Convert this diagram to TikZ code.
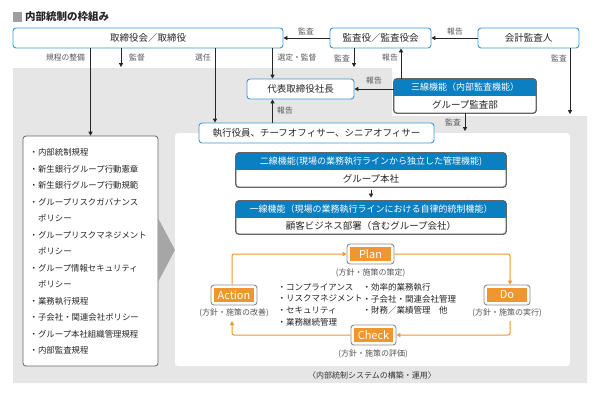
\documentclass[tikz,border=0pt]{standalone}
\usepackage{fontspec}
\setmainfont{Noto Sans CJK JP}
\usetikzlibrary{arrows.meta}
\definecolor{bborder}{HTML}{3A9AD6}
\definecolor{hblue}{HTML}{0A7FC1}
\definecolor{bggray}{HTML}{E6E6E6}
\definecolor{lblgray}{HTML}{555555}
\definecolor{orng}{HTML}{F0962E}
\definecolor{trigray}{HTML}{A6A6A6}
\definecolor{boxgray}{HTML}{666666}
\tikzset{
  bbox/.style={draw=bborder, line width=0.9pt, rounded corners=3pt, fill=white, text=black!85,
    font=\fontsize{9.5}{11}\selectfont, inner sep=0pt},
  tbox/.style={draw=boxgray, line width=0.8pt, rounded corners=3pt, fill=white, inner sep=0pt},
  htext/.style={text=white, font=\fontsize{9}{10}\selectfont, inner sep=0pt},
  ltext/.style={text=black!85, font=\fontsize{9.5}{11}\selectfont, inner sep=0pt},
  lbl/.style={text=lblgray, font=\fontsize{7.8}{9}\selectfont, inner sep=0pt},
  blk/.style={draw=black!85, line width=0.9pt, -{Triangle[length=4pt,width=4.2pt]}},
  pdca/.style={draw=gray!90, line width=0.9pt, rounded corners=3pt, fill=white, inner sep=0pt,
    minimum height=20pt},
  ptext/.style={text=white, font=\fontsize{11}{12}\selectfont, inner sep=0pt},
  plbl/.style={text=lblgray, font=\fontsize{8}{9}\selectfont, inner sep=0pt},
  oarrow/.style={draw=orng, line width=1pt, rounded corners=2pt, -{Triangle[length=4pt,width=4.2pt]}},
}
\begin{document}
\begin{tikzpicture}[x=1pt,y=-1pt]
\useasboundingbox (0,0) rectangle (608,392);
% backgrounds
\fill[bggray] (13,68) -- (392,68) -- (392,116) -- (587,116) -- (587,383) -- (13,383) -- cycle;
\fill[white, rounded corners=3pt] (175,133) rectangle (570,366);
% title
\fill[gray!75] (13,12) rectangle (22,22);
\node[anchor=west, inner sep=0pt, font=\bfseries\fontsize{10.5}{12}\selectfont, text=black!85] (title) at (25,17) {内部統制の枠組み};
% top boxes
\node[bbox, minimum width=270pt, minimum height=20pt] (board) at (148,38) {取締役会／取締役};
\node[bbox, minimum width=101pt, minimum height=20pt] (kansa) at (380.5,38) {監査役／監査役会};
\node[bbox, minimum width=101pt, minimum height=20pt] (kaikei) at (528.5,38) {会計監査人};
\node[bbox, minimum width=107pt, minimum height=20pt] (daihyo) at (300.5,89) {代表取締役社長};
\node[bbox, minimum width=235pt, minimum height=20pt] (shikko) at (316.5,133) {執行役員、チーフオフィサー、シニアオフィサー};
% three-line box
\node[tbox, minimum width=142pt, minimum height=34pt] (sansen) at (465,96) {};
\begin{scope}
\clip[rounded corners=3pt] (sansen.north west) rectangle (sansen.south east);
\fill[hblue] (sansen.north west) rectangle (sansen.east);
\end{scope}
\draw[boxgray, line width=0.8pt, rounded corners=3pt] (sansen.north west) rectangle (sansen.south east);
\node[htext] (sansenh) at (465,87.5) {三線機能（内部監査機能）};
\node[ltext] (sansenl) at (465,104.5) {グループ監査部};
% second line box
\node[tbox, minimum width=270pt, minimum height=34pt] (nisen) at (371,170) {};
\begin{scope}
\clip[rounded corners=3pt] (nisen.north west) rectangle (nisen.south east);
\fill[hblue] (nisen.north west) rectangle (nisen.east);
\end{scope}
\draw[boxgray, line width=0.8pt, rounded corners=3pt] (nisen.north west) rectangle (nisen.south east);
\node[htext] (nisenh) at (371,161.5) {二線機能(現場の業務執行ラインから独立した管理機能)};
\node[ltext] (nisenl) at (371,178.5) {グループ本社};
% first line box
\node[tbox, minimum width=270pt, minimum height=33pt] (ichisen) at (371,217.5) {};
\begin{scope}
\clip[rounded corners=3pt] (ichisen.north west) rectangle (ichisen.south east);
\fill[hblue] (ichisen.north west) rectangle (ichisen.east);
\end{scope}
\draw[boxgray, line width=0.8pt, rounded corners=3pt] (ichisen.north west) rectangle (ichisen.south east);
\node[htext] (ichisenh) at (371,209.5) {一線機能（現場の業務執行ラインにおける自律的統制機能）};
\node[ltext] (ichisenl) at (371,226) {顧客ビジネス部署（含むグループ会社）};
% list box
\node[tbox, minimum width=135pt, minimum height=230pt] (list) at (90.5,251) {};
\node[anchor=north west, align=left, inner sep=0pt, text=black!85, font=\fontsize{8.4}{16.5}\selectfont] (listtext) at (29.5,148.5)
{・内部統制規程\\
・新生銀行グループ行動憲章\\
・新生銀行グループ行動規範\\
・グループリスクガバナンス\\
\phantom{・}ポリシー\\
・グループリスクマネジメント\\
\phantom{・}ポリシー\\
・グループ情報セキュリティ\\
\phantom{・}ポリシー\\
・業務執行規程\\
・子会社・関連会社ポリシー\\
・グループ本社組織管理規程\\
・内部監査規程};
\fill[trigray] (158,218) -- (175,250) -- (158,282) -- cycle;
% coordinates
\coordinate (kantoku) at (121,67);
\coordinate (xsen) at (215,0);
\coordinate (xd) at (272.5,0);
\coordinate (kansad) at (354,67);
\coordinate (x401) at (401,0);
\coordinate (kaikeid) at (570,114);
\coordinate (sansend) at (465,131);
% black arrows
\draw[blk] (board.south -| list.north) -- (list.north);
\draw[blk] (board.south -| kantoku) -- (kantoku);
\draw[blk] (board.south -| xsen) -- (shikko.north -| xsen);
\draw[blk] (board.south -| xd) -- (daihyo.north -| xd);
\draw[blk] (shikko.north -| xd) -- (daihyo.south -| xd);
\draw[blk] (kansa.south -| kansad) -- (kansad);
\draw[blk] (kansa.west) -- (board.east);
\draw[blk] (kaikei.west) -- (kansa.east);
\draw[blk] (sansen.north -| x401) -- (kansa.south -| x401);
\draw[blk] (sansen.west |- daihyo.east) -- (daihyo.east);
\draw[blk] (kaikei.south -| kaikeid) -- (kaikeid);
\draw[blk] (sansen.south) -- (sansend);
\draw[blk, shorten <=3pt, shorten >=3pt] (nisen.south) -- (ichisen.north);
% labels
\node[lbl] (l1) at (65.5,58) {規程の整備};
\node[lbl] (l2) at (137,58) {監督};
\node[lbl] (l3) at (203,58) {選任};
\node[lbl] (l4) at (297,58) {選定・監督};
\node[lbl] (l5) at (342,58) {監査};
\node[lbl] (l6) at (390,58) {報告};
\node[lbl] (l7) at (559,58) {監査};
\node[lbl] (l8) at (306,31) {監査};
\node[lbl] (l9) at (455,32) {報告};
\node[lbl] (l10) at (374,81) {報告};
\node[lbl] (l11) at (285,111) {報告};
\node[lbl] (l12) at (453,122) {監査};
% PDCA
\node[pdca, minimum width=47pt] (plan) at (370.5,254) {};
\node[pdca, minimum width=46pt] (do) at (507,295) {};
\node[pdca, minimum width=46pt] (action) at (234,295) {};
\node[pdca, minimum width=45pt] (check) at (373.5,335) {};
\foreach \n in {plan,do,action,check}{
  \fill[orng] ([shift={(3pt,-3pt)}]\n.north west) rectangle ([shift={(-3pt,3pt)}]\n.south east);
}
\node[ptext] (plant) at (plan) {Plan};
\node[ptext] (dot) at (do) {Do};
\node[ptext] (actiont) at (action) {Action};
\node[ptext] (checkt) at (check) {Check};
\node[plbl] (planl) at (370.5,273) {(方針・施策の策定)};
\node[plbl] (dol) at (507,313) {(方針・施策の実行)};
\node[plbl] (actionl) at (234,313) {(方針・施策の改善)};
\node[plbl] (checkl) at (373,354) {(方針・施策の評価)};
\coordinate (doout) at (510,321);
\coordinate (actin) at (232,321);
\draw[oarrow] (action.north -| actin) |- (plan.west);
\draw[oarrow] (plan.east) -| (doout |- do.north);
\draw[oarrow] (doout) |- (check.east);
\draw[oarrow] (check.west) -| (actin);
% center bullets
\node[anchor=north west, align=left, inner sep=0pt, text=black!85, font=\fontsize{8.5}{11.7}\selectfont] (c1) at (277.5,283)
{・コンプライアンス\\・リスクマネジメント\\・セキュリティ\\・業務継続管理};
\node[anchor=north west, align=left, inner sep=0pt, text=black!85, font=\fontsize{8.5}{11.7}\selectfont] (c2) at (362.5,283)
{・効率的業務執行\\・子会社・関連会社管理\\・財務／業績管理　他};
% caption
\node[plbl, text=black!80] (cap) at (372,375) {〈内部統制システムの構築・運用〉};
\end{tikzpicture}
\end{document}
